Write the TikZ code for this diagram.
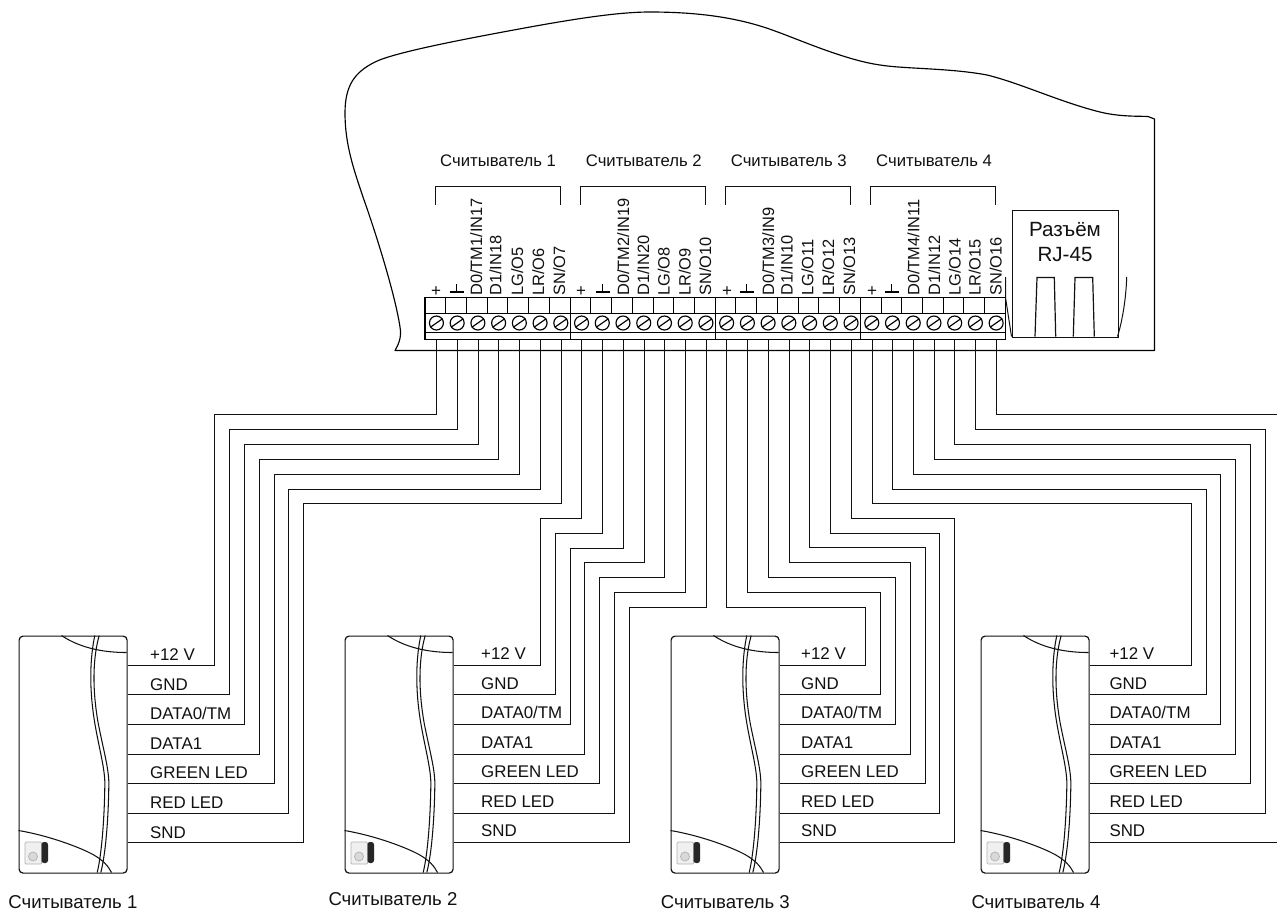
\documentclass[tikz,border=0pt]{standalone}
\usepackage{fontspec}
\usetikzlibrary{calc}
\setmainfont{Liberation Sans}
\definecolor{ink}{HTML}{111111}
\tikzset{
  wire/.style={draw=ink,line width=1.2pt},
  thin line/.style={draw=ink,line width=1.05pt},
  term/.style={draw=black,line width=1.2pt},
  screw/.style={circle,draw=black,line width=1.15pt,minimum size=14pt,inner sep=0pt},
  pinlabel/.style={rotate=90,anchor=base west,inner sep=0pt,font=\fontsize{16.4}{16}\selectfont,text=ink},
  toplabel/.style={anchor=base west,inner sep=0pt,font=\fontsize{16.7}{17}\selectfont,text=ink},
  caption/.style={anchor=base west,inner sep=0pt,font=\fontsize{18.6}{19}\selectfont,text=ink},
  portlabel/.style={anchor=base west,inner sep=0pt,font=\fontsize{16.9}{17}\selectfont,text=ink},
  reader/.style={draw=ink,line width=1.2pt,rounded corners=4pt,minimum width=108pt,minimum height=237pt,anchor=north west,inner sep=0pt},
  rjtext/.style={anchor=base,inner sep=0pt,font=\fontsize{20.6}{21}\selectfont,text=ink}
}
\begin{document}
\begin{tikzpicture}[x=1pt,y=-1pt]
\useasboundingbox (0,0) rectangle (1277,914);
\fill[white] (0,0) rectangle (1277,914);

% housing outline
\draw[line width=1.15pt,draw=black,line join=round]
  (395,350.5) .. controls (398,345) and (402,338) .. (400,327)
  .. controls (396,300) and (380,245) .. (363,197)
  .. controls (354,170) and (345,145) .. (345,113)
  .. controls (345,85) and (355,72) .. (375,62)
  .. controls (395,52) and (470,38) .. (530,27)
  .. controls (580,18) and (620,12) .. (650,12)
  .. controls (700,12) and (740,18) .. (775,31)
  .. controls (800,40) and (845,60) .. (880,65)
  .. controls (905,69) and (950,68) .. (987,75)
  .. controls (1020,83) and (1060,102) .. (1100,112)
  .. controls (1120,117) and (1140,116) .. (1148,116.5)
  .. controls (1151,117) and (1152,117.5) .. (1154.5,119)
  -- (1154.5,350.5) -- cycle;

% terminal strip
\draw[term] (425,297.5) rectangle (1005.5,339.5);
\draw[term,line width=1.1pt] (425,313.5) -- (1005.5,313.5);
\draw[draw=black,line width=1.1pt] (425,332.5) -- (1005.5,332.5);
\foreach \i in {1,...,27}{
  \draw[draw=black,line width=1pt] ({floor(425+20.73*\i)+0.5},297.5) -- ({floor(425+20.73*\i)+0.5},313.5);
}
\foreach \x in {570.5,715.5,860.5}{
  \draw[term,line width=1.4pt] (\x,297.5) -- (\x,339.5);
}
\foreach \i in {1,...,28}{
  \node[screw] (s-\i) at ({415.7+20.73*\i},323) {};
  \draw[draw=black,line width=1.15pt] (s-\i.215) -- (s-\i.35);
  \coordinate (t-\i) at ({floor(416+20.73*\i)+0.5},339.5);
}

% group brackets
\foreach \a/\b in {435.5/560.5,580.5/705.5,725.5/850.5,870.5/995.5}{
  \draw[draw=ink,line width=1.2pt] (\a,205) -- (\a,186.5) -- (\b,186.5) -- (\b,204.5);
}
\foreach \x/\n in {440/1,585.7/2,730.7/3,876/4}{
  \node[toplabel] (head-\n) at (\x,166) {Считыватель \n};
}

% pin labels
\foreach \x/\n/\t in {
  482/a1/{D0\slash TM1\slash IN17},501.3/a2/{D1\slash IN18},523/a3/{LG\slash O5},544/a4/{LR\slash O6},565/a5/{SN\slash O7},
  629/b1/{D0\slash TM2\slash IN19},649/b2/{D1\slash IN20},669.5/b3/{LG\slash O8},690.6/b4/{LR\slash O9},711/b5/{SN\slash O10},
  774/c1/{D0\slash TM3\slash IN9},792.7/c2/{D1\slash IN10},813.3/c3/{LG\slash O11},834/c4/{LR\slash O12},855/c5/{SN\slash O13},
  919.3/d1/{D0\slash TM4\slash IN11},940/d2/{D1\slash IN12},960.7/d3/{LG\slash O14},980.7/d4/{LR\slash O15},1001.7/d5/{SN\slash O16}}{
  \node[pinlabel] (pin-\n) at (\x,295.8) {\t};
}
\foreach \x/\n in {436/1,581/2,727/3,872/4}{
  \node[inner sep=0pt,font=\fontsize{17}{17}\selectfont,text=ink] (plus-\n) at (\x,291.5) {+};
}
\foreach \x in {456.5,602.5,746.5,891.5}{
  \draw[draw=black,line width=1.5pt] (\x-7,292) -- (\x+7,292);
  \draw[draw=black,line width=1.2pt] (\x,284) -- (\x,292);
}

% RJ-45 connector
\node[draw=ink,line width=1.2pt,minimum width=106pt,minimum height=127pt,anchor=north west,inner sep=0pt] (rj) at (1011.5,209.5) {};
\node[rjtext] (rj-a) at (1065,236.5) {Разъём};
\node[rjtext] (rj-b) at (1065,261.5) {RJ-45};
\draw[draw=ink,line width=1.2pt] (1035,336.5) -- (1037,277.5) -- (1054.3,277.5) -- (1055.7,336.5);
\draw[draw=ink,line width=1.2pt] (1073.3,336.5) -- (1075,277.5) -- (1092.7,277.5) -- (1094.3,336.5);
\draw[draw=ink,line width=1pt] (1005.5,277) -- (1005.5,297.5) -- (1011.5,336.5);
\draw[draw=ink,line width=1pt] (1117.5,336.5) .. controls (1122,322) and (1126,300) .. (1126.7,277);

% readers
\foreach \n/\x in {1/18.5,2/344.5,3/670.5,4/980.5}{
  \node[reader] (r\n) at (\x,635.5) {};
  \begin{scope}[shift={(\x,635.5)}]
    \draw[thin line] (43,0) .. controls (55,8) and (75,17) .. (108,17);
    \draw[thin line] (76.3,0) .. controls (72,20) and (70,50) .. (76.3,87.7)
      .. controls (81,115) and (87,135) .. (86.3,151)
      .. controls (86,175) and (84,215) .. (78.7,237);
    \draw[thin line] (80.7,0) .. controls (75,20) and (73,50) .. (79.7,87.7)
      .. controls (85,115) and (91,135) .. (90.3,151)
      .. controls (90,175) and (88,215) .. (82.3,237);
    \draw[thin line] (0,195) .. controls (30,200) and (62,212) .. (75,219.3)
      .. controls (85,225) and (90,231) .. (93,237);
    \fill[gray!12,draw=gray!60,line width=0.7pt,rounded corners=1pt] (6.5,206.5) rectangle (23,228.5);
    \fill[black!85,rounded corners=2.5pt] (23,206.5) rectangle (29.5,227.5);
    \draw[gray!60,fill=gray!30,line width=0.7pt] (14.5,221) circle (4.5);
  \end{scope}
  \foreach \p/\y in {1/665.5,2/694.5,3/724.5,4/754.5,5/783.5,6/813.5,7/842.5}{
    \coordinate (p-\n-\p) at ($(r\n.north east)+(0,\y-635.5)$);
  }
}

% port labels
\foreach \n/\x/\d in {1/150/1.4,2/481/0,3/801/0,4/1109.3/0}{
  \foreach \k/\y/\t in {1/659.3/+12 V,2/689/GND,3/718.3/{DATA0\slash TM},4/748/DATA1,5/777.3/GREEN LED,6/807/RED LED,7/836.7/SND}{
    \node[portlabel] (lab-\n-\k) at (\x,\y+\d) {\t};
  }
}

% captions
\foreach \n/\x/\y in {1/8.3/908,2/328.3/905.7,3/660.7/908.3,4/971.3/908.3}{
  \node[caption] (cap-\n) at (\x,\y) {Считыватель \n};
}

% wires
\foreach \t/\yb/\xr/\r/\p in {
  1/414.5/214.5/1/1,2/429.5/229.5/1/2,3/444.5/244.5/1/3,4/459.5/259.5/1/4,5/474.5/274.5/1/5,6/489.5/288.5/1/6,7/503.5/303.5/1/7,
  8/518.5/540.5/2/1,9/533.5/555.5/2/2,10/548.5/570.5/2/3,11/562.5/584.5/2/4,12/577.5/599.5/2/5,13/592.5/614.5/2/6,14/607.5/629.5/2/7,
  15/607.5/865.5/3/1,16/592.5/880.5/3/2,17/577.5/895.5/3/3,18/562.5/910.5/3/4,19/547.5/925.5/3/5,20/533.5/939.5/3/6,21/518.5/954.5/3/7,
  22/503.5/1191.5/4/1,23/489.5/1206.5/4/2,24/474.5/1220.5/4/3,25/459.5/1235.5/4/4,26/444.5/1250.5/4/5,27/429.5/1265.5/4/6}{
  \draw[wire] (t-\t) |- (\xr,\yb) |- (p-\r-\p);
}
\coordinate (edge-a) at (1277,414.5);
\coordinate (edge-b) at (1277,842.5);
\draw[wire] (t-28) |- (edge-a);
\draw[wire] (p-4-7) -- (edge-b);
\end{tikzpicture}
\end{document}
